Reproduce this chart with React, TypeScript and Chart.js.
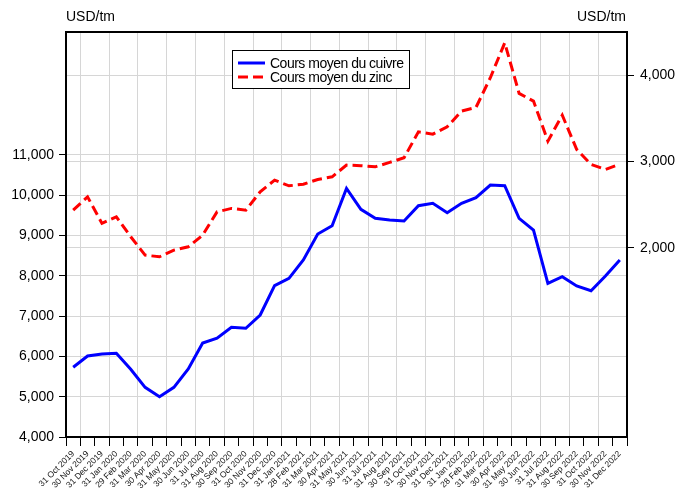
import React, { useEffect, useRef } from "react";
import { Chart, registerables } from "chart.js";

Chart.register(...registerables);

const dateLabels = [
  "31 Oct 2019", "30 Nov 2019", "31 Dec 2019",
  "31 Jan 2020", "29 Feb 2020", "31 Mar 2020", "30 Apr 2020", "31 May 2020", "30 Jun 2020",
  "31 Jul 2020", "31 Aug 2020", "30 Sep 2020", "31 Oct 2020", "30 Nov 2020", "31 Dec 2020",
  "31 Jan 2021", "28 Feb 2021", "31 Mar 2021", "30 Apr 2021", "31 May 2021", "30 Jun 2021",
  "31 Jul 2021", "31 Aug 2021", "30 Sep 2021", "31 Oct 2021", "30 Nov 2021", "31 Dec 2021",
  "31 Jan 2022", "28 Feb 2022", "31 Mar 2022", "30 Apr 2022", "31 May 2022", "30 Jun 2022",
  "31 Jul 2022", "31 Aug 2022", "30 Sep 2022", "31 Oct 2022", "30 Nov 2022", "31 Dec 2022",
];

const copperPrice = [
  5730, 6010, 6060, 6077, 5680, 5233, 5000, 5233, 5687, 6330,
  6450, 6722, 6697, 7027, 7755, 7938, 8392, 9037, 9243, 10170,
  9650, 9427, 9385, 9360, 9740, 9799, 9566, 9800, 9938, 10253,
  10236, 9427, 9136, 7813, 7978, 7747, 7630, 7995, 8392,
];

const zincPrice = [
  2435, 2589, 2281, 2358, 2126, 1913, 1894, 1971, 2010, 2145,
  2415, 2455, 2435, 2647, 2783, 2717, 2736, 2790, 2821, 2957,
  2950, 2937, 2988, 3042, 3343, 3316, 3401, 3583, 3625, 3970,
  4375, 3788, 3699, 3235, 3536, 3139, 2965, 2907, 2968,
];

const leftTicks = [4000, 5000, 6000, 7000, 8000, 9000, 10000, 11000];
const rightTicks = [2000, 3000, 4000];

const seriesNames = ["Cours moyen du cuivre", "Cours moyen du zinc"];
const unitLabel = "USD/tm";

const FONT = "'Liberation Sans', Arial, sans-serif";
const GRID = "#d6d6d6";

const decorPlugin = {
  id: "decor",
  afterDraw(chart: any) {
    const { ctx, chartArea } = chart;
    const { left, right, top, bottom } = chartArea;
    ctx.save();
    ctx.strokeStyle = "#000";
    ctx.lineWidth = 2;
    ctx.strokeRect(left, top, right - left, bottom - top);
    ctx.fillStyle = "#000";
    ctx.font = `14px ${FONT}`;
    ctx.textBaseline = "middle";
    ctx.textAlign = "left";
    ctx.fillText(unitLabel, left, 17);
    ctx.textAlign = "right";
    ctx.fillText(unitLabel, right - 1, 17);
    const lx = 232, ly = 50, lw = 177, lh = 38;
    ctx.fillStyle = "#fff";
    ctx.fillRect(lx, ly, lw, lh);
    ctx.lineWidth = 1;
    ctx.strokeStyle = "#000";
    ctx.strokeRect(lx + 0.5, ly + 0.5, lw, lh);
    ctx.lineWidth = 3;
    ctx.strokeStyle = "#0000ff";
    ctx.setLineDash([]);
    ctx.beginPath();
    ctx.moveTo(238, 63);
    ctx.lineTo(265, 63);
    ctx.stroke();
    ctx.strokeStyle = "#ff0000";
    ctx.setLineDash([10, 5]);
    ctx.beginPath();
    ctx.moveTo(238, 77);
    ctx.lineTo(267, 77);
    ctx.stroke();
    ctx.setLineDash([]);
    ctx.fillStyle = "#000";
    ctx.font = `14px ${FONT}`;
    (ctx as any).letterSpacing = "-0.5px";
    ctx.textAlign = "left";
    ctx.textBaseline = "middle";
    ctx.fillText(seriesNames[0], 270, 64);
    ctx.fillText(seriesNames[1], 270, 78);
    ctx.restore();
  },
};

export default function App() {
  const ref = useRef<HTMLCanvasElement>(null);

  useEffect(() => {
    if (!ref.current) return;
    const chart = new Chart(ref.current, {
      type: "line",
      data: {
        labels: dateLabels,
        datasets: [
          {
            label: seriesNames[0],
            data: copperPrice,
            yAxisID: "yLeft",
            borderColor: "#0000ff",
            backgroundColor: "#0000ff",
            borderWidth: 3,
            pointRadius: 0,
            tension: 0,
          },
          {
            label: seriesNames[1],
            data: zincPrice,
            yAxisID: "yRight",
            borderColor: "#ff0000",
            backgroundColor: "#ff0000",
            borderWidth: 3,
            borderDash: [10, 5],
            pointRadius: 0,
            tension: 0,
          },
        ],
      },
      options: {
        responsive: false,
        animation: false,
        layout: { padding: { top: 32, left: 0, right: 0, bottom: 0 } },
        plugins: {
          legend: { display: false },
          tooltip: { enabled: false },
          title: { display: false },
        },
        scales: {
          x: {
            type: "category",
            offset: true,
            grid: {
              offset: true,
              color: (c: any) => (typeof c.index === "number" && c.index % 2 === 1 ? GRID : "rgba(0,0,0,0)"),
              tickColor: "#000",
              tickLength: 9,
              lineWidth: 1,
            },
            border: { color: "#000", width: 2 },
            ticks: {
              autoSkip: false,
              minRotation: 45,
              maxRotation: 45,
              padding: 3,
              color: "#111",
              font: { family: FONT, size: 8.5 },
            },
            afterFit: (s: any) => {
              s.height = 56;
            },
          },
          yLeft: {
            type: "linear",
            position: "left",
            min: 4000,
            max: 14050,
            afterBuildTicks: (s: any) => {
              s.ticks = leftTicks.map((v) => ({ value: v }));
            },
            grid: { color: GRID, tickColor: "#000", tickLength: 7 },
            border: { color: "#000", width: 2 },
            ticks: {
              padding: 5,
              color: "#000",
              font: { family: FONT, size: 14 },
              callback: (v: any) => Number(v).toLocaleString("en-US"),
            },
            afterFit: (s: any) => {
              s.width = 66;
            },
          },
          yRight: {
            type: "linear",
            position: "right",
            min: -195,
            max: 4500,
            afterBuildTicks: (s: any) => {
              s.ticks = rightTicks.map((v) => ({ value: v }));
            },
            grid: { color: GRID, tickColor: "#000", tickLength: 7 },
            border: { color: "#000", width: 2 },
            ticks: {
              padding: 6,
              color: "#000",
              font: { family: FONT, size: 14 },
              callback: (v: any) => Number(v).toLocaleString("en-US"),
            },
            afterFit: (s: any) => {
              s.width = 53;
            },
          },
        },
      },
      plugins: [decorPlugin],
    });
    return () => chart.destroy();
  }, []);

  return (
    <div style={{ position: "absolute", left: 0, top: 0, width: 680, height: 493, background: "#fff" }}>
      <canvas ref={ref} width={680} height={493} style={{ display: "block" }} />
    </div>
  );
}
